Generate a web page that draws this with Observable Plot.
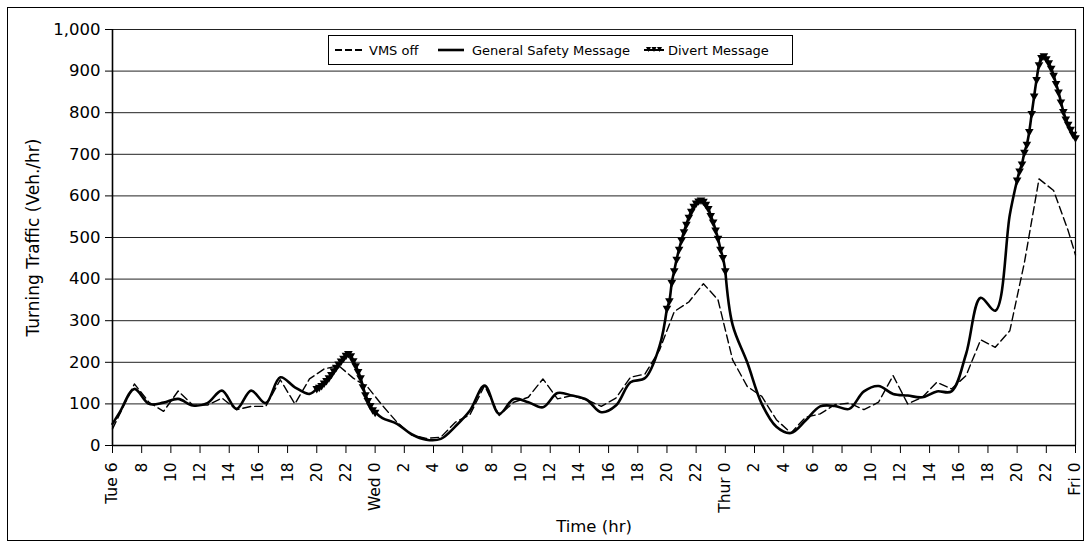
<!DOCTYPE html>
<html><head><meta charset="utf-8">
<script src="https://cdn.jsdelivr.net/npm/d3@7"></script>
<script src="https://cdn.jsdelivr.net/npm/@observablehq/plot@0.6"></script>
<style>
body{margin:0;background:#fff;font-family:"DejaVu Sans",sans-serif;}
#wrap{position:relative;width:1091px;height:549px;overflow:hidden;background:#fff;}
#border{position:absolute;left:7px;top:7px;width:1077px;height:534px;border:1.5px solid #000;box-sizing:border-box;pointer-events:none;}
#legend{position:absolute;left:328px;top:35px;width:465px;height:30px;border:1.2px solid #000;background:#fff;box-sizing:border-box;font-size:13px;color:#000;}
#legend .sw,#legend .tx{position:absolute;top:0;height:28px;display:flex;align-items:center;white-space:nowrap;}
</style></head>
<body>
<div id="wrap">
  <div id="chart"></div>
  <div id="border"></div>
  <div id="legend"></div>
</div>
<script>
// ---- data ----
const xTickHours = [0,2,4,6,8,10,12,14,16,18,20,22,24,26,28,30,32,34,36,38,40,42,44,46,48,50,52,54,56,58,60,62,64,66];
const xTickLabels = ["Tue 6","8","10","12","14","16","18","20","22","Wed 0","2","4","6","8","10","12","14","16","18","20","22","Thur 0","2","4","6","8","10","12","14","16","18","20","22","Fri 0"];
const yTicks = [0,100,200,300,400,500,600,700,800,900,1000];
const seriesNames = ["VMS off", "General Safety Message", "Divert Message"];

// VMS off (hours since Tue 06:00)
const vmsHours = [0,0.5,1.5,2.5,3.5,4.5,5.5,6.5,7.5,8.5,9.5,10.5,11.5,12.5,13.5,14.5,15.5,16.5,17.5,18.5,19.5,20.5,21.5,22.5,23.5,24.5,25.5,26.5,27.5,28.5,29.5,30.5,31.5,32.5,33.5,34.5,35.5,36.5,37.5,38.5,39.5,40.5,41.5,42.5,43.5,44.5,45.5,46.5,47.5,48.5,49.5,50.5,51.5,52.5,53.5,54.5,55.5,56.5,57.5,58.5,59.5,60.5,61.5,62.5,63.5,64.5,65.5,66];
const vmsValues = [40,76,148,104,82,131,97,97,114,86,94,94,158,100,160,184,192,162,140,96,56,25,17,20,56,74,144,72,104,116,160,112,120,110,94,114,164,172,230,322,345,389,350,206,142,118,62,30,68,76,98,102,86,104,168,100,116,152,136,168,254,236,276,440,641,613,516,458];

// General Safety Message (null = divert period)
const gsmHours = [0,0.5,1.5,2.5,3.5,4.5,5.5,6.5,7.5,8.5,9.5,10.5,11.5,12.5,13.5,14,16,18,18.5,19.5,20.5,21.5,22.5,23.5,24.5,25.5,26.5,27.5,28.5,29.5,30.5,31.5,32.5,33.5,34.5,35.5,36.5,37.5,38,40,42,42.5,43.5,44.5,45.5,46.5,47.5,48.5,49.5,50.5,51.5,52.5,53.5,54.5,55.5,56.5,57.5,58.5,59.5,60.5,61.5,62];
const gsmValues = [52,80,136,100,103,112,96,102,132,88,132,102,164,140,124,137,null,80,66,52,27,14,16,46,84,144,76,112,104,92,126,120,110,80,96,152,162,240,330,null,420,290,200,100,45,30,60,94,95,88,130,143,124,120,116,130,130,220,355,324,555,638];

// Divert Message, 20:00-24:00 every 10 minutes
const divertStarts = [14, 38, 62];
const divertTue = [137,140,144,150,156,163,171,180,188,196,203,210,217,221,216,204,192,178,163,141,122,108,96,86,80];
const divertWed = [330,348,392,420,448,472,494,514,532,549,563,575,583,588,590,587,580,570,553,537,518,498,472,452,420];
const divertFri = [638,660,677,705,724,755,798,840,880,915,933,937,930,920,907,890,870,850,826,803,785,772,760,748,740];

// ---- build tables ----
const vms = vmsHours.map((h,i)=>({h, v: vmsValues[i]}));
const gsm = gsmHours.map((h,i)=>({h, v: gsmValues[i]}));
const divert = [];
[divertTue, divertWed, divertFri].forEach((arr, k) => arr.forEach((v, i) => divert.push({h: divertStarts[k] + i/6, v, seg: k})));

const labelOf = d => xTickLabels[xTickHours.indexOf(d)];
const FONT = "'DejaVu Sans', sans-serif";

const chart = Plot.plot({
  width: 1091, height: 549,
  marginLeft: 112, marginRight: 16, marginTop: 29, marginBottom: 104,
  style: {fontFamily: FONT, fontSize: "16px", color: "#000", background: "transparent", overflow: "visible"},
  x: {domain: [0, 66]},
  y: {domain: [0, 1000]},
  marks: [
    Plot.gridY(yTicks, {stroke: "#222", strokeOpacity: 1, strokeWidth: 1}),
    Plot.ruleX([66], {stroke: "#000", strokeWidth: 1.2}),
    Plot.axisY({ticks: yTicks, tickFormat: d3.format(","), tickSize: 7, tickPadding: 5, fontSize: 16.5, label: null}),
    Plot.axisY({ticks: [], tickSize: 0, fontSize: 17,
      label: "Turning Traffic (Veh./hr)", labelAnchor: "center", labelArrow: "none", labelOffset: 86}),
    Plot.axisX({ticks: xTickHours, tickFormat: labelOf, tickRotate: -90, tickSize: 8, tickPadding: 9, fontSize: 15.5, label: null}),
    Plot.axisX({ticks: [], tickSize: 0, fontSize: 16.5,
      label: "Time (hr)", labelAnchor: "center", labelArrow: "none", labelOffset: 86}),
    Plot.line(vms, {x: "h", y: "v", stroke: "#000", strokeWidth: 1.4, strokeDasharray: "8,4"}),
    Plot.line(gsm, {x: "h", y: "v", stroke: "#000", strokeWidth: 2.6, curve: "catmull-rom"}),
    Plot.line(divert, {x: "h", y: "v", z: "seg", stroke: "#000", strokeWidth: 2.6, curve: "catmull-rom"}),
    Plot.dot(divert, {x: "h", y: "v", symbol: "triangle", rotate: 180, r: 3.2, fill: "#000", stroke: "none"}),
    Plot.ruleY([0], {stroke: "#000", strokeWidth: 1.6}),
    Plot.ruleX([0], {stroke: "#000", strokeWidth: 1.6})
  ]
});
document.getElementById("chart").appendChild(chart);

// ---- legend ----
const swatches = [
  `<svg width="28" height="10"><line x1="0" y1="5" x2="28" y2="5" stroke="#000" stroke-width="2" stroke-dasharray="7,3"/></svg>`,
  `<svg width="26" height="10"><line x1="0" y1="5" x2="26" y2="5" stroke="#000" stroke-width="2.6"/></svg>`,
  `<svg width="20" height="10"><line x1="0" y1="5" x2="20" y2="5" stroke="#000" stroke-width="2"/><path d="M2,2 L7,2 L4.5,7Z M7.5,2 L12.5,2 L10,7Z M13,2 L18,2 L15.5,7Z" fill="#000"/></svg>`
];
const swLeft = [6, 109, 315];
const txLeft = [40, 143, 339];
const lg = document.getElementById("legend");
seriesNames.forEach((name, i) => {
  const s = document.createElement("div"); s.className = "sw"; s.style.left = swLeft[i] + "px"; s.innerHTML = swatches[i];
  const t = document.createElement("div"); t.className = "tx"; t.style.left = txLeft[i] + "px"; t.textContent = name;
  lg.appendChild(s); lg.appendChild(t);
});
</script>
</body></html>
